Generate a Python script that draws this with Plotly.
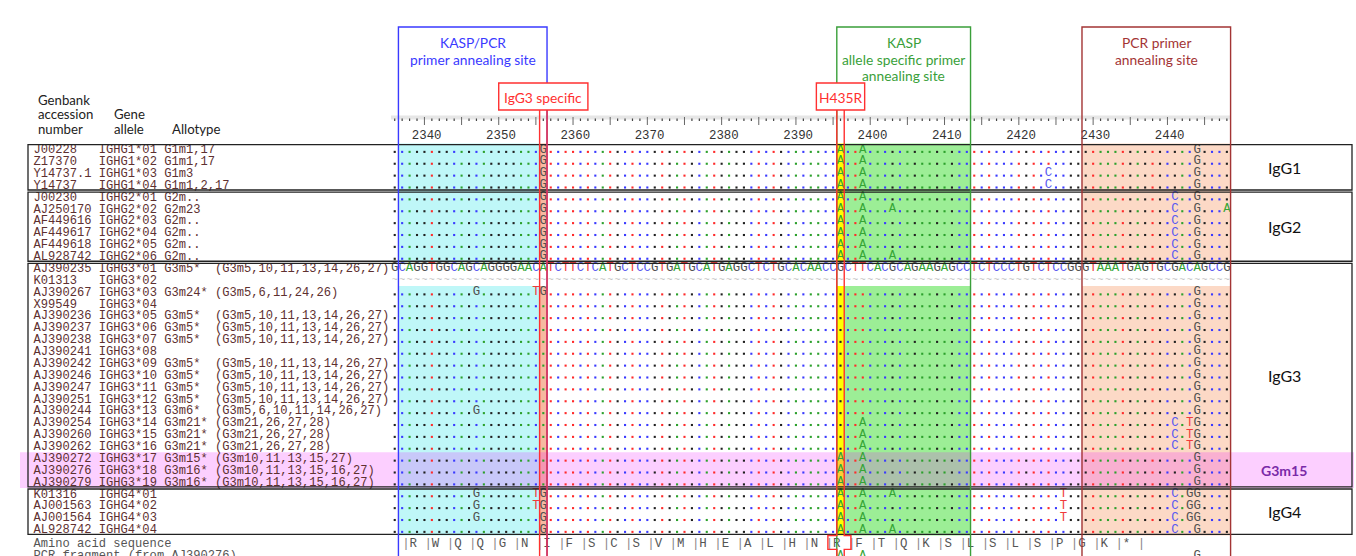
import plotly.graph_objects as go

# ------------------------------------------------------------------ data
ref_start = 2336          # genomic position of the first aligned column
ref_seq = ("GCAGGTGGCAGCAGGGGAAC" "ATCTTCTCATGCTCCGTGAT" "GCATGAGGCTCTGCACAACC"
           "GCTTCACGCAGAAGAGCCTC" "TCCCTGTCTCCGGGTAAATG" "AGTGCGACAGCCG")
ref_allele = "IGHG3*01"
missing_alleles = ["IGHG3*02"]

accessions = ["J00228", "Z17370", "Y14737.1", "Y14737",
              "J00230", "AJ250170", "AF449616", "AF449617", "AF449618", "AL928742",
              "AJ390235", "K01313", "AJ390267", "X99549", "AJ390236", "AJ390237",
              "AJ390238", "AJ390241", "AJ390242", "AJ390246", "AJ390247", "AJ390251",
              "AJ390244", "AJ390254", "AJ390260", "AJ390262", "AJ390272", "AJ390276",
              "AJ390279",
              "K01316", "AJ001563", "AJ001564", "AL928742"]
gene_alleles = ["IGHG1*01", "IGHG1*02", "IGHG1*03", "IGHG1*04",
                "IGHG2*01", "IGHG2*02", "IGHG2*03", "IGHG2*04", "IGHG2*05", "IGHG2*06",
                "IGHG3*01", "IGHG3*02", "IGHG3*03", "IGHG3*04", "IGHG3*05", "IGHG3*06",
                "IGHG3*07", "IGHG3*08", "IGHG3*09", "IGHG3*10", "IGHG3*11", "IGHG3*12",
                "IGHG3*13", "IGHG3*14", "IGHG3*15", "IGHG3*16", "IGHG3*17", "IGHG3*18",
                "IGHG3*19",
                "IGHG4*01", "IGHG4*02", "IGHG4*03", "IGHG4*04"]
allotypes = ["G1m1,17", "G1m1,17", "G1m3", "G1m1,2,17",
             "G2m..", "G2m23", "G2m..", "G2m..", "G2m..", "G2m..",
             "G3m5*", "", "G3m24*", "", "G3m5*", "G3m5*", "G3m5*", "", "G3m5*", "G3m5*",
             "G3m5*", "G3m5*", "G3m6*", "G3m21*", "G3m21*", "G3m21*", "G3m15*", "G3m16*",
             "G3m16*",
             "", "", "", ""]
g3_5 = "(G3m5,10,11,13,14,26,27)"
g3_21 = "(G3m21,26,27,28)"
allotype_details = ["", "", "", "",
                    "", "", "", "", "", "",
                    g3_5, "", "(G3m5,6,11,24,26)", "", g3_5, g3_5, g3_5, "", g3_5, g3_5,
                    g3_5, g3_5, "(G3m5,6,10,11,14,26,27)", g3_21, g3_21, g3_21,
                    "(G3m10,11,13,15,27)", "(G3m10,11,13,15,16,27)", "(G3m10,11,13,15,16,27)",
                    "", "", "", ""]

# differences from the reference (position + base)
v_g1 = "2356G 2396A 2399A 2444G"
v_g1b = "2356G 2396A 2399A 2424C 2444G"
v_g2 = "2356G 2396A 2399A 2441C 2444G"
v_g3 = "2444G"
v_g3_21 = "2399A 2441C 2443T 2444G"
v_g3_15 = "2396A 2399A 2444G"
variants = {
    "IGHG1*01": v_g1, "IGHG1*02": v_g1, "IGHG1*03": v_g1b, "IGHG1*04": v_g1b,
    "IGHG2*01": v_g2, "IGHG2*02": "2356G 2396A 2399A 2403A 2441C 2444G 2448A",
    "IGHG2*03": v_g2, "IGHG2*04": v_g2, "IGHG2*05": v_g2,
    "IGHG2*06": "2356G 2396A 2399A 2403A 2441C 2444G",
    "IGHG3*03": "2347G 2355T 2356G 2444G", "IGHG3*04": v_g3, "IGHG3*05": v_g3,
    "IGHG3*06": v_g3, "IGHG3*07": v_g3, "IGHG3*08": v_g3, "IGHG3*09": v_g3,
    "IGHG3*10": v_g3, "IGHG3*11": v_g3, "IGHG3*12": v_g3, "IGHG3*13": "2347G 2444G",
    "IGHG3*14": v_g3_21, "IGHG3*15": v_g3_21, "IGHG3*16": v_g3_21,
    "IGHG3*17": v_g3_15, "IGHG3*18": v_g3_15, "IGHG3*19": v_g3_15,
    "IGHG4*01": "2347G 2355T 2356G 2396A 2399A 2403A 2426T 2441C 2443G 2444G",
    "IGHG4*02": "2347G 2355T 2356G 2396A 2399A 2426T 2441C 2443G 2444G",
    "IGHG4*03": "2347G 2356G 2396A 2399A 2426T 2441C 2443G 2444G",
    "IGHG4*04": "2356G 2396A 2399A 2403A 2441C 2444G",
}

group_names = ["IgG1", "IgG2", "IgG3", "IgG4"]
group_sizes = [4, 6, 19, 4]
highlight_alleles = ["IGHG3*17", "IGHG3*18", "IGHG3*19"]
highlight_label = "G3m15"

aa_seq = "RWQQGNIFSCSVMHEALHNRFTQKSLSLSPGK*"
aa_frame_start = 2338
pcr_fragment_source = "IGHG3*18"

site_kasp_pcr = (2337, 2356)
site_kasp_as = (2396, 2413)
site_pcr = (2429, 2448)
snp_igg3 = 2356
snp_h435r = 2396
ruler_labels = [2340, 2350, 2360, 2370, 2380, 2390, 2400, 2410, 2420, 2430, 2440]

# ------------------------------------------------------------------ geometry helpers
W = 7.43      # px per column
H = 11.875    # px per row
def X(px):
    return (px - 391.0) / W - 0.5
def Y(py):
    return (py - 149.5) / H

MONO = "Liberation Mono, Courier New, monospace"
SANS = "Lato, Open Sans, Arial, sans-serif"
FS = 12.4
FS_LEFT = 12.1
CH_LEFT = FS_LEFT * 0.6 / W   # one left-text character in column units
nt_letter = {"A": "#35a535", "C": "#5a5af0", "G": "#505050", "T": "#f03a3a"}
nt_dot = {"A": "#2ca02c", "C": "#3a3aff", "G": "#202020", "T": "#ff2a2a"}

ncol = len(ref_seq)
fig = go.Figure()
shapes = []
annotations = []

def col(pos):
    return pos - ref_start

def parse(v):
    out = {}
    for tok in v.split():
        out[col(int(tok[:-1]))] = tok[-1]
    return out

# rows shown as dots/letters
aligned_rows = [r for r, g in enumerate(gene_alleles)
                if g != ref_allele and g not in missing_alleles]
aa_row = len(gene_alleles) + 0.22
pcr_row = aa_row + 1

# contiguous runs of aligned rows (for background fills)
runs = []
for r in aligned_rows:
    if runs and runs[-1][1] == r - 1:
        runs[-1][1] = r
    else:
        runs.append([r, r])

def fill(c0, c1, color):
    for a, b in runs:
        shapes.append(dict(type="rect", xref="x", yref="y", x0=c0 - 0.5, x1=c1 + 0.5,
                           y0=a - 0.5, y1=b + 0.5, fillcolor=color, line_width=0,
                           layer="below"))

fill(col(site_kasp_pcr[0]), col(snp_igg3) - 1, "#bff7f8")
fill(col(snp_igg3), col(snp_igg3), "#f6b9a0")
fill(col(snp_h435r), col(snp_h435r), "#ffff00")
fill(col(snp_h435r) + 1, col(site_kasp_as[1]), "#9cee96")
fill(col(site_pcr[0]), col(site_pcr[1]), "#fcd9c6")

# pink highlight band
hl_rows = [gene_alleles.index(g) for g in highlight_alleles]
shapes.append(dict(type="rect", xref="x", yref="y", x0=X(20), x1=X(1354),
                   y0=min(hl_rows) - 0.5, y1=max(hl_rows) + 0.5,
                   fillcolor="rgba(240,16,255,0.2)", line_width=0, layer="below"))

# ------------------------------------------------------------------ alignment marks
dots = {b: ([], []) for b in "ACGT"}
letters = {b: ([], []) for b in "ACGT"}

def add_seq_row(r, var):
    for c in range(ncol):
        if c in var:
            letters[var[c]][0].append(c)
            letters[var[c]][1].append(r)
        else:
            dots[ref_seq[c]][0].append(c)
            dots[ref_seq[c]][1].append(r + 0.2)

for r in aligned_rows:
    add_seq_row(r, parse(variants[gene_alleles[r]]))
add_seq_row(pcr_row, parse(variants[pcr_fragment_source]))

ref_row = gene_alleles.index(ref_allele)
for c, b in enumerate(ref_seq):
    letters[b][0].append(c)
    letters[b][1].append(ref_row)

for b in "ACGT":
    fig.add_trace(go.Scatter(x=dots[b][0], y=dots[b][1], mode="markers",
                             marker=dict(symbol="square", size=2.1, color=nt_dot[b],
                                         line_width=0),
                             hoverinfo="skip"))
    fig.add_trace(go.Scatter(x=letters[b][0], y=letters[b][1], mode="text",
                             text=[b] * len(letters[b][0]), textposition="middle center",
                             textfont=dict(family=MONO, size=FS, color=nt_letter[b]),
                             hoverinfo="skip"))

# missing rows (~)
for g in missing_alleles:
    r = gene_alleles.index(g)
    fig.add_trace(go.Scatter(x=list(range(ncol)), y=[r + 0.05] * ncol, mode="text",
                             text=["~"] * ncol, textposition="middle center",
                             textfont=dict(family=MONO, size=10, color="#c4c4c4"),
                             hoverinfo="skip"))

# ------------------------------------------------------------------ left text
rows = list(range(len(gene_alleles)))
left0 = X(33.5)
txt_col = "#5e3030"
for offset, vals in [(0, accessions), (9, gene_alleles), (18, allotypes), (25, allotype_details)]:
    fig.add_trace(go.Scatter(x=[left0 + offset * CH_LEFT] * len(rows),
                             y=[r + 0.06 for r in rows],
                             mode="text", text=vals, textposition="middle right",
                             textfont=dict(family=MONO, size=FS_LEFT, color=txt_col),
                             hoverinfo="skip"))
fig.add_trace(go.Scatter(x=[left0, left0], y=[aa_row, pcr_row], mode="text",
                         text=["Amino acid sequence", "PCR fragment (from AJ390276)"],
                         textposition="middle right",
                         textfont=dict(family=MONO, size=FS_LEFT, color="#555555"),
                         hoverinfo="skip"))

# amino acid row
aa_x, aa_t, bar_x = [], [], []
for k, a in enumerate(aa_seq):
    c = col(aa_frame_start) + 3 * k
    bar_x.append(c - 0.5)
    aa_x.append(c + 0.5)
    aa_t.append(a)
bar_x.append(col(aa_frame_start) + 3 * len(aa_seq) - 0.5)
fig.add_trace(go.Scatter(x=aa_x, y=[aa_row] * len(aa_x), mode="text", text=aa_t,
                         textposition="middle center",
                         textfont=dict(family=MONO, size=FS, color="#555555"),
                         hoverinfo="skip"))
fig.add_trace(go.Scatter(x=bar_x, y=[aa_row] * len(bar_x), mode="text",
                         text=["|"] * len(bar_x), textposition="middle center",
                         textfont=dict(family=MONO, size=FS, color="#888888"),
                         hoverinfo="skip"))

# ------------------------------------------------------------------ ruler
fig.add_trace(go.Scatter(x=[-0.5, ncol - 0.5], y=[Y(117.5), Y(117.5)], mode="lines",
                         line=dict(color="#e6e6e6", width=4), hoverinfo="skip"))
mx, my, Mx, My = [], [], [], []
for c in range(ncol):
    if (c + ref_start) % 5 == 0:
        Mx += [c, c, None]
        My += [Y(117), Y(125), None]
    else:
        mx += [c, c, None]
        my += [Y(118.5), Y(121), None]
fig.add_trace(go.Scatter(x=mx, y=my, mode="lines", line=dict(color="#444444", width=1.2),
                         hoverinfo="skip"))
fig.add_trace(go.Scatter(x=Mx, y=My, mode="lines", line=dict(color="#666666", width=1),
                         hoverinfo="skip"))
fig.add_trace(go.Scatter(x=[col(p) + 0.3 for p in ruler_labels], y=[Y(135.5)] * len(ruler_labels),
                         mode="text", text=[str(p) for p in ruler_labels],
                         textposition="middle center",
                         textfont=dict(family=MONO, size=FS, color="#333333"),
                         hoverinfo="skip"))

# ------------------------------------------------------------------ group boxes & labels
start = 0
for name, n in zip(group_names, group_sizes):
    shapes.append(dict(type="rect", xref="x", yref="y", x0=X(28), x1=X(1352),
                       y0=start - 0.5 + 0.09, y1=start + n - 0.5 - 0.09,
                       line=dict(color="#222222", width=1.3), fillcolor="rgba(0,0,0,0)",
                       layer="above"))
    annotations.append(dict(x=X(1284), y=start + (n - 1) / 2, xref="x", yref="y",
                            text=name, showarrow=False, xanchor="center", yanchor="middle",
                            font=dict(family=SANS, size=16, color="#111111")))
    start += n
annotations.append(dict(x=X(1284), y=sum(hl_rows) / len(hl_rows), xref="x", yref="y",
                        text="<b>%s</b>" % highlight_label, showarrow=False,
                        font=dict(family=SANS, size=14, color="#7a2aa8")))

# ------------------------------------------------------------------ primer boxes
ybot = Y(560)
ytop = Y(27)
def open_box(c0, c1, color, lines, ys):
    x0, x1 = c0 - 0.5, c1 + 0.5
    shapes.append(dict(type="path", xref="x", yref="y",
                       path="M %f,%f L %f,%f L %f,%f L %f,%f" % (x0, ybot, x0, ytop, x1, ytop, x1, ybot),
                       line=dict(color=color, width=1.4), layer="above"))
    for t, yy in zip(lines, ys):
        annotations.append(dict(x=(x0 + x1) / 2, y=Y(yy), xref="x", yref="y", text=t,
                                showarrow=False, xanchor="center", yanchor="middle",
                                font=dict(family=SANS, size=13.8, color=color)))

open_box(col(site_kasp_pcr[0]), col(site_kasp_pcr[1]), "#3a3aff",
         ["KASP/PCR", "primer annealing site"], [42, 59])
open_box(col(site_kasp_as[0]), col(site_kasp_as[1]), "#3a9f3a",
         ["KASP", "allele specific primer", "annealing site"], [42, 59, 75])
open_box(col(site_pcr[0]), col(site_pcr[1]), "#a33434",
         ["PCR primer", "annealing site"], [42, 59])

# ------------------------------------------------------------------ SNP markers
red = "#ff3030"
box_top = len(gene_alleles) - 0.5
def snp_marker(c, label, half, bulge=None):
    shapes.append(dict(type="rect", xref="x", yref="y", x0=c - half, x1=c + half,
                       y0=Y(83), y1=Y(110), line=dict(color=red, width=1.4),
                       fillcolor="white", layer="above"))
    annotations.append(dict(x=c, y=Y(97), xref="x", yref="y", text=label, showarrow=False,
                            font=dict(family=SANS, size=13.8, color=red)))
    for side, xe in ((-1, c - 0.5), (1, c + 0.5)):
        if bulge is None:
            p = "M %f,%f L %f,%f" % (xe, Y(110), xe, ybot)
        else:
            xo = c + (bulge[0] if side < 0 else bulge[1])
            p = ("M %f,%f L %f,%f L %f,%f L %f,%f L %f,%f L %f,%f" %
                 (xe, Y(110), xe, box_top, xo, box_top, xo, aa_row + 0.45,
                  xe, aa_row + 0.45, xe, ybot))
        shapes.append(dict(type="path", xref="x", yref="y", path=p,
                           line=dict(color=red, width=1.4), layer="above"))

snp_marker(col(snp_igg3), "IgG3 specific", 6.0)
snp_marker(col(snp_h435r), "H435R", 3.25, bulge=(-1.7, 1.4))

# ------------------------------------------------------------------ headers
for t, px, py in [("Genbank", 36, 99.5), ("accession", 36, 114), ("number", 36, 128.5),
                  ("Gene", 112, 114), ("allele", 112, 128.5), ("Allotype", 170, 128.5)]:
    annotations.append(dict(x=X(px), y=Y(py), xref="x", yref="y", text=t, showarrow=False,
                            xanchor="left", yanchor="middle",
                            font=dict(family=SANS, size=13.2, color="#222222")))

fig.update_layout(
    width=1356, height=556, margin=dict(l=0, r=0, t=0, b=0, pad=0),
    paper_bgcolor="white", plot_bgcolor="white", showlegend=False,
    xaxis=dict(range=[X(0), X(1356)], visible=False, fixedrange=True),
    yaxis=dict(range=[Y(556), Y(0)], visible=False, fixedrange=True),
    shapes=shapes, annotations=annotations,
)
fig.write_html("out.html", config={"displayModeBar": False},
               post_script="document.body.style.margin='0px';")
